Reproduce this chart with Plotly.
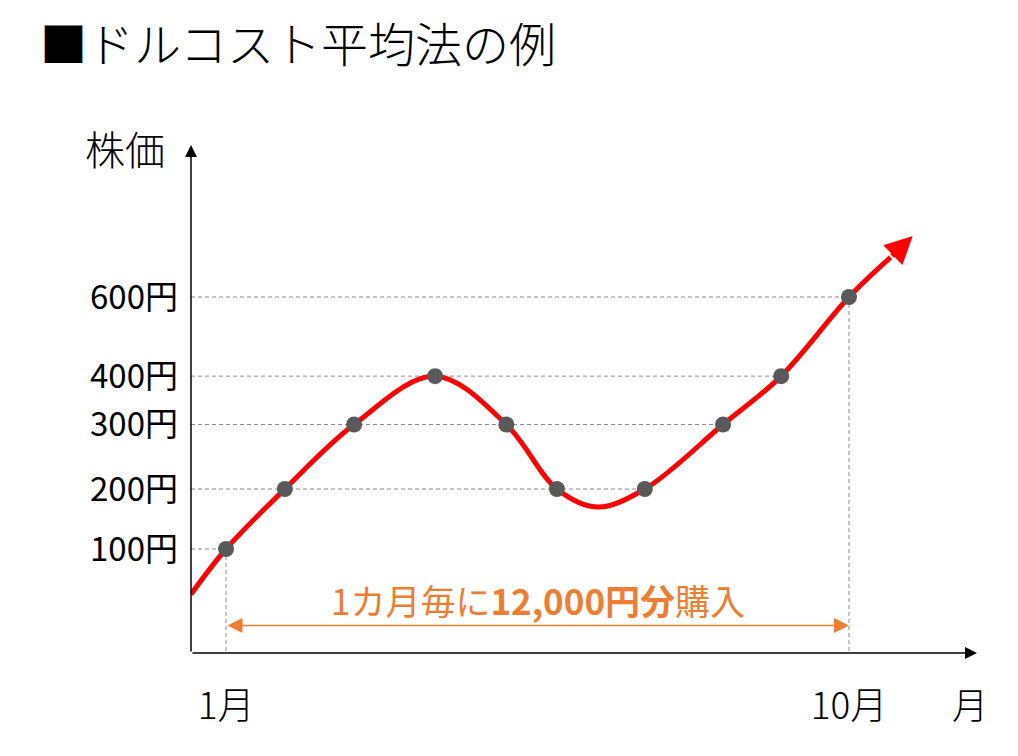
import numpy as np
import plotly.graph_objects as go

# ---- data ----
buy_month = [1, 1.85, 2.85, 4.02, 5.05, 5.78, 7.05, 8.18, 9.02, 10]
buy_price = [100, 200, 300, 400, 300, 200, 200, 300, 400, 600]

trend_month = [0.494, 1, 1.85, 2.85, 4.02, 5.05, 5.78, 6.36, 7.05, 8.18, 9.02, 10, 10.6, 10.92]
trend_price = [10, 100, 200, 300, 400, 300, 200, 170, 200, 300, 400, 600, 700, 754]

price_ticks = [100, 200, 300, 400, 600]
price_tick_text = ["100円", "200円", "300円", "400円", "600円"]
month_tick_text = ["1月", "10月"]

# schematic (non-linear) price scale used by the illustration
scale_price = [0, 100, 200, 300, 400, 600, 800]
scale_level = [0, 1, 2.19, 3.47, 4.43, 6, 7.57]


def lv(p):
    return np.interp(p, scale_price, scale_level)


X_RANGE = [0.494, 11.849]
Y_RANGE = [-1.0635, 9.016]
FONT = "Noto Sans CJK JP"
ORANGE = "#ED7D31"
GRID = "#8C8C8C"
RED = "#FF0000"

pl, pr, pt, pb = 183, 49, 137, 111
pw, ph = 1018 - pl - pr, 756 - pt - pb

fig = go.Figure()

# dashed guide lines
shapes = []
for p in price_ticks:
    xm = max(m for m, q in zip(buy_month, buy_price) if q == p)
    shapes.append(dict(type="line", xref="x", yref="y", x0=X_RANGE[0], x1=xm,
                       y0=float(lv(p)), y1=float(lv(p)),
                       line=dict(color=GRID, width=1, dash="4px,3px"), layer="below"))
for i in (0, -1):
    shapes.append(dict(type="line", xref="x", yref="y", x0=buy_month[i], x1=buy_month[i],
                       y0=float(lv(buy_price[i])), y1=Y_RANGE[0] - 0.15,
                       line=dict(color=GRID, width=1, dash="4px,3px"), layer="below"))

# trend curve (spline), arrow head added as annotation on the last segment
fig.add_trace(go.Scatter(
    x=trend_month[:-1], y=lv(trend_price[:-1]), mode="lines",
    line=dict(color=RED, width=5, shape="spline", smoothing=1.0),
    hoverinfo="skip", cliponaxis=False, showlegend=False))

# purchase points
fig.add_trace(go.Scatter(
    x=buy_month, y=lv(buy_price), mode="markers",
    marker=dict(size=16, color="#595959"), showlegend=False, cliponaxis=False))

annotations = [
    # trend arrow head
    dict(x=trend_month[-1], y=float(lv(trend_price[-1])),
         ax=trend_month[-2], ay=float(lv(trend_price[-2])), xref="x", yref="y",
         axref="x", ayref="y", text="", showarrow=True, arrowhead=2, arrowsize=1.1,
         arrowwidth=5, arrowcolor=RED, standoff=0),
    # y axis
    dict(x=X_RANGE[0], y=Y_RANGE[1], ax=X_RANGE[0], ay=Y_RANGE[0], xref="x", yref="y",
         axref="x", ayref="y", text="", showarrow=True, arrowhead=2, arrowsize=1.6,
         arrowwidth=1.5, arrowcolor="black", standoff=0),
    # x axis
    dict(x=X_RANGE[1], y=Y_RANGE[0], ax=X_RANGE[0], ay=Y_RANGE[0], xref="x", yref="y",
         axref="x", ayref="y", text="", showarrow=True, arrowhead=2, arrowsize=1.6,
         arrowwidth=1.5, arrowcolor="black", standoff=0),
    # orange span arrow
    dict(x=buy_month[-1], y=-0.52, ax=buy_month[0], ay=-0.52, xref="x", yref="y",
         axref="x", ayref="y", text="", showarrow=True, arrowhead=2, arrowside="end+start",
         arrowsize=2.0, arrowwidth=1.5, arrowcolor=ORANGE, standoff=0, startstandoff=0),
    dict(x=(buy_month[0] + buy_month[-1]) / 2, y=0, xref="x", yref="y",
         text="1カ月毎に<b>12,000円分</b>購入", showarrow=False,
         font=dict(family=FONT, size=35, color=ORANGE), yanchor="middle"),
    dict(x=-0.084, y=0.994, xref="paper", yref="paper", text="株価", showarrow=False,
         font=dict(family=FONT, size=40, color="black", weight=300),
         xanchor="center", yanchor="middle"),
    dict(x=0.991, y=-0.098, xref="paper", yref="paper", text="月", showarrow=False,
         font=dict(family=FONT, size=36, color="black", weight=300),
         xanchor="center", yanchor="middle"),
    # title
    dict(x=(30 - pl) / pw, y=(756 - pb - 34) / ph, xref="paper", yref="paper",
         text="■ドルコスト平均法の例", showarrow=False, xanchor="left", yanchor="middle",
         font=dict(family=FONT, size=47, color="black", weight=300)),
]

fig.update_layout(
    width=1018, height=756,
    margin=dict(l=pl, r=pr, t=pt, b=pb),
    paper_bgcolor="white", plot_bgcolor="white",
    xaxis=dict(range=X_RANGE, showgrid=False, zeroline=False, showline=False,
               tickvals=[buy_month[0], buy_month[-1]], ticktext=month_tick_text,
               ticks="", ticklabelstandoff=28,
               tickfont=dict(family=FONT, size=37, color="black", weight=300)),
    yaxis=dict(range=Y_RANGE, showgrid=False, zeroline=False, showline=False,
               tickvals=[float(v) for v in lv(price_ticks)], ticktext=price_tick_text,
               ticks="", ticklabelstandoff=12,
               tickfont=dict(family=FONT, size=33, color="black")),
    shapes=shapes, annotations=annotations,
)

fig.write_html("out.html")
